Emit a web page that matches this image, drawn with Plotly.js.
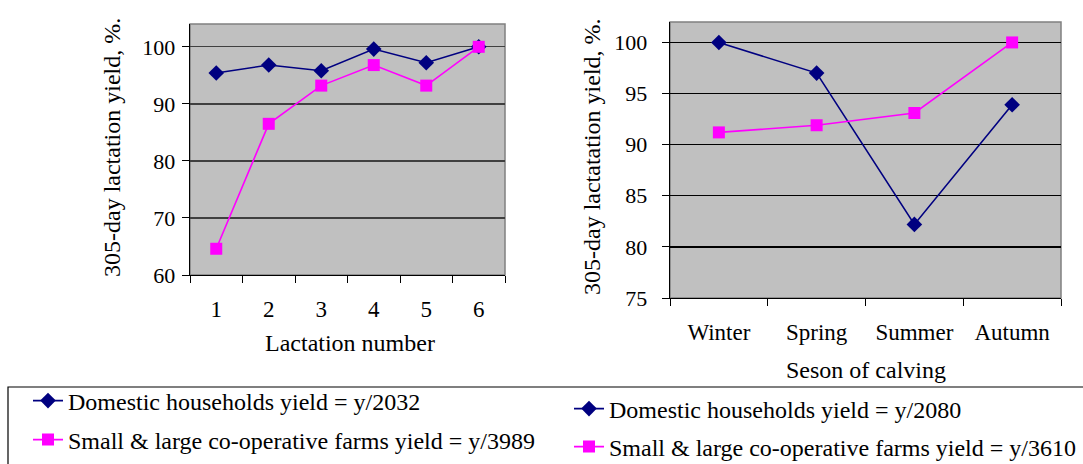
<!DOCTYPE html>
<html>
<head>
<meta charset="utf-8">
<script src="https://cdn.plot.ly/plotly-3.0.1.min.js"></script>
<style>html,body{margin:0;padding:0;background:#fff;}#chart{width:1083px;height:464px;}</style>
</head>
<body>
<div id="chart"></div>
<script>
const lactationNumbers = ['1', '2', '3', '4', '5', '6'];
const domesticByLactation = [95.4, 96.8, 95.8, 99.6, 97.2, 100];
const coopByLactation = [64.6, 86.5, 93.2, 96.8, 93.2, 100];

const seasons = ['Winter', 'Spring', 'Summer', 'Autumn'];
const domesticBySeason = [100, 97, 82.2, 93.9];
const coopBySeason = [91.2, 91.9, 93.1, 100];

const legendNames = [
  'Domestic households yield = y/2032',
  'Small & large co-operative farms yield = y/3989',
  'Domestic households yield = y/2080',
  'Small & large co-operative farms yield = y/3610'
];

const W = 1083, H = 464;
const px = v => v / W;
const py = v => 1 - v / H;
const FONT = 'Liberation Serif';
const FS = 23;
const NAVY = '#000080', MAG = '#FF00FF';

const navyStyle = {line: {color: NAVY, width: 1.6}, marker: {symbol: 'diamond', size: 12, color: NAVY}};
const magStyle = {line: {color: MAG, width: 1.6}, marker: {symbol: 'square', size: 12, color: MAG}};

const traces = [
  Object.assign({x: lactationNumbers, y: domesticByLactation, name: legendNames[0], mode: 'lines+markers', xaxis: 'x', yaxis: 'y', legend: 'legend'}, navyStyle),
  Object.assign({x: lactationNumbers, y: coopByLactation, name: legendNames[1], mode: 'lines+markers', xaxis: 'x', yaxis: 'y', legend: 'legend2'}, magStyle),
  Object.assign({x: seasons, y: domesticBySeason, name: legendNames[2], mode: 'lines+markers', xaxis: 'x2', yaxis: 'y2', legend: 'legend3'}, navyStyle),
  Object.assign({x: seasons, y: coopBySeason, name: legendNames[3], mode: 'lines+markers', xaxis: 'x2', yaxis: 'y2', legend: 'legend4'}, magStyle)
];

function xAxis(domain, range, anchor, standoff) {
  return {
    domain: domain, type: 'category', range: range, anchor: anchor,
    showline: true, linecolor: '#000', linewidth: 1.3, mirror: false,
    ticks: 'outside', tickson: 'boundaries', ticklen: 7, tickcolor: '#000', tickwidth: 1,
    showgrid: false, zeroline: false, fixedrange: true,
    ticklabelstandoff: standoff,
    tickfont: {family: FONT, size: FS, color: '#000'}
  };
}
function yAxis(domain, range, dtick, gridcolor, anchor, standoff) {
  return {
    domain: domain, range: range, dtick: dtick, tick0: 0, anchor: anchor,
    showline: true, linecolor: '#000', linewidth: 1.3,
    ticks: 'outside', ticklen: 7, tickcolor: '#000', tickwidth: 1,
    showgrid: true, gridcolor: gridcolor, gridwidth: 1.3, zeroline: false, fixedrange: true,
    ticklabelstandoff: standoff,
    tickfont: {family: FONT, size: 22, color: '#000'}
  };
}

function legendAt(x, y) {
  return {x: px(x), y: py(y), xanchor: 'left', yanchor: 'middle', bgcolor: 'rgba(0,0,0,0)', borderwidth: 0,
    font: {family: FONT, size: 24, color: '#000'}, itemwidth: 30};
}

const titleFont = {family: FONT, size: 24, color: '#000'};

const layout = {
  width: W, height: H,
  margin: {l: 0, r: 0, t: 0, b: 0, autoexpand: false},
  paper_bgcolor: '#fff',
  plot_bgcolor: '#c0c0c0',
  showlegend: true,
  xaxis: xAxis([px(190), px(505)], [-0.5, 5.5], 'y', 13),
  yaxis: yAxis([py(275), py(24)], [60, 104], 10, '#404040', 'x', 2),
  xaxis2: xAxis([px(670), px(1061)], [-0.5, 3.5], 'y2', 13),
  yaxis2: yAxis([py(298), py(22)], [75, 102], 5, '#000000', 'x2', 10),
  legend: legendAt(28, 401),
  legend2: legendAt(28, 440),
  legend3: legendAt(569, 409),
  legend4: legendAt(569, 447),
  shapes: [
    {type: 'rect', xref: 'paper', yref: 'paper', x0: px(190), x1: px(505), y0: py(275), y1: py(24), line: {color: '#808080', width: 1.5}, layer: 'below'},
    {type: 'rect', xref: 'paper', yref: 'paper', x0: px(670), x1: px(1061), y0: py(298), y1: py(22), line: {color: '#808080', width: 1.5}, layer: 'below'},
    {type: 'rect', xref: 'paper', yref: 'paper', x0: px(8), x1: px(1090), y0: py(475), y1: py(387), line: {color: '#000', width: 1.2}}
  ],
  annotations: [
    {text: '305-day lactation yield, %.', xref: 'paper', yref: 'paper', x: px(112), y: py(148), textangle: -90, showarrow: false, xanchor: 'center', yanchor: 'middle', font: titleFont},
    {text: 'Lactation number', xref: 'paper', yref: 'paper', x: px(350), y: py(343), showarrow: false, xanchor: 'center', yanchor: 'middle', font: titleFont},
    {text: '305-day lactatation yield, %.', xref: 'paper', yref: 'paper', x: px(592), y: py(157), textangle: -90, showarrow: false, xanchor: 'center', yanchor: 'middle', font: titleFont},
    {text: 'Seson of calving', xref: 'paper', yref: 'paper', x: px(866), y: py(370), showarrow: false, xanchor: 'center', yanchor: 'middle', font: titleFont}
  ]
};

Plotly.newPlot('chart', traces, layout, {staticPlot: true, displayModeBar: false});
</script>
</body>
</html>
